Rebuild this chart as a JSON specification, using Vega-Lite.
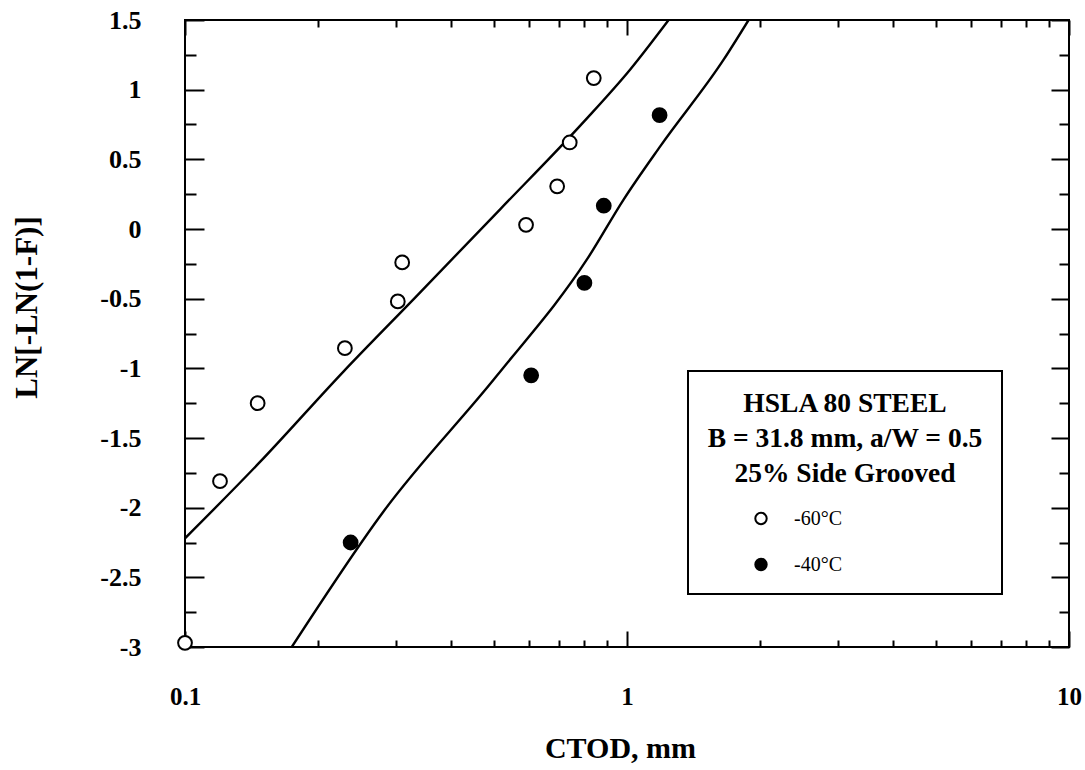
{
  "$schema": "https://vega.github.io/schema/vega-lite/v6.json",
  "width": 884,
  "height": 627,
  "autosize": {"type": "none"},
  "padding": {"left": 185, "top": 20, "right": 16, "bottom": 123},
  "background": "white",
  "config": {
    "view": {"stroke": "black", "strokeWidth": 2},
    "font": "Liberation Serif",
    "axis": {
      "domain": false,
      "grid": false,
      "tickColor": "black",
      "tickWidth": 2,
      "tickOpacity": 1,
      "labelColor": "black",
      "labelFont": "Liberation Serif",
      "labelFontWeight": "bold",
      "titleColor": "black",
      "titleFont": "Liberation Serif",
      "titleFontWeight": "bold"
    }
  },
  "datasets": {
    "fits": [
      {"fit": "upper", "ctod": 0.1, "lnln": -2.22},
      {"fit": "upper", "ctod": 0.148, "lnln": -1.67},
      {"fit": "upper", "ctod": 0.228, "lnln": -1.025},
      {"fit": "upper", "ctod": 0.335, "lnln": -0.478},
      {"fit": "upper", "ctod": 0.517, "lnln": 0.143},
      {"fit": "upper", "ctod": 0.797, "lnln": 0.767},
      {"fit": "upper", "ctod": 1.018, "lnln": 1.147},
      {"fit": "upper", "ctod": 1.242, "lnln": 1.5},
      {"fit": "lower", "ctod": 0.1744, "lnln": -3.0},
      {"fit": "lower", "ctod": 0.281, "lnln": -2.029},
      {"fit": "lower", "ctod": 0.508, "lnln": -1.052},
      {"fit": "lower", "ctod": 0.813, "lnln": -0.215},
      {"fit": "lower", "ctod": 0.984, "lnln": 0.215},
      {"fit": "lower", "ctod": 1.191, "lnln": 0.597},
      {"fit": "lower", "ctod": 1.657, "lnln": 1.219},
      {"fit": "lower", "ctod": 1.884, "lnln": 1.5}
    ],
    "tests": [
      {"temp": "-60°C", "ctod": 0.1, "lnln": -2.97},
      {"temp": "-60°C", "ctod": 0.12, "lnln": -1.81},
      {"temp": "-60°C", "ctod": 0.146, "lnln": -1.25},
      {"temp": "-60°C", "ctod": 0.23, "lnln": -0.855},
      {"temp": "-60°C", "ctod": 0.303, "lnln": -0.52},
      {"temp": "-60°C", "ctod": 0.31, "lnln": -0.24},
      {"temp": "-60°C", "ctod": 0.591, "lnln": 0.03},
      {"temp": "-60°C", "ctod": 0.695, "lnln": 0.306},
      {"temp": "-60°C", "ctod": 0.742, "lnln": 0.621},
      {"temp": "-60°C", "ctod": 0.841, "lnln": 1.083},
      {"temp": "-40°C", "ctod": 0.237, "lnln": -2.25},
      {"temp": "-40°C", "ctod": 0.607, "lnln": -1.05},
      {"temp": "-40°C", "ctod": 0.801, "lnln": -0.387},
      {"temp": "-40°C", "ctod": 0.886, "lnln": 0.167},
      {"temp": "-40°C", "ctod": 1.185, "lnln": 0.817}
    ]
  },
  "resolve": {"axis": {"x": "independent", "y": "independent"}},
  "layer": [
    {
      "data": {"name": "fits"},
      "mark": {"type": "line", "color": "black", "strokeWidth": 2.4, "opacity": 1, "interpolate": "monotone", "clip": true},
      "encoding": {
        "detail": {"field": "fit"},
        "x": {
          "field": "ctod", "type": "quantitative",
          "scale": {"type": "log", "domain": [0.1, 10], "nice": false},
          "axis": {
            "orient": "bottom",
            "title": "CTOD, mm",
            "titleFontSize": 30,
            "titleX": 435,
            "titleY": 101,
            "titleAlign": "center",
            "titleBaseline": "middle",
            "values": [0.1, 0.2, 0.3, 0.4, 0.5, 0.6, 0.7, 0.8, 0.9, 1, 2, 3, 4, 5, 6, 7, 8, 9, 10],
            "tickSize": {"condition": {"test": "datum.value == 0.1 || datum.value == 1 || datum.value == 10", "value": -16}, "value": -7},
            "labelExpr": "datum.value == 0.1 || datum.value == 1 || datum.value == 10 ? toString(datum.value) : ''",
            "labelFontSize": 25,
            "labelPadding": 53,
            "labelFlush": false,
            "labelOverlap": false
          }
        },
        "y": {
          "field": "lnln", "type": "quantitative",
          "scale": {"domain": [-3, 1.5], "nice": false, "zero": false},
          "axis": {
            "orient": "left",
            "title": "LN[-LN(1-F)]",
            "titleFontSize": 31,
            "titleX": -158,
            "titleY": 287,
            "titleAlign": "center",
            "titleBaseline": "middle",
            "titleAngle": 270,
            "values": [-3, -2.75, -2.5, -2.25, -2, -1.75, -1.5, -1.25, -1, -0.75, -0.5, -0.25, 0, 0.25, 0.5, 0.75, 1, 1.25, 1.5],
            "tickSize": {"condition": {"test": "(datum.value * 2) % 1 == 0", "value": -19}, "value": -11},
            "labelExpr": "(datum.value * 2) % 1 == 0 ? toString(datum.value) : ''",
            "labelFontSize": 26,
            "labelPadding": 63,
            "labelFlush": false,
            "labelOverlap": false
          }
        }
      }
    },
    {
      "data": {"name": "tests"},
      "mark": {"type": "point", "shape": "circle", "filled": true, "opacity": 1, "size": 190, "stroke": "black", "strokeWidth": 2},
      "encoding": {
        "x": {
          "field": "ctod", "type": "quantitative",
          "axis": {
            "orient": "top",
            "title": null,
            "labels": false,
            "values": [0.1, 0.2, 0.3, 0.4, 0.5, 0.6, 0.7, 0.8, 0.9, 1, 2, 3, 4, 5, 6, 7, 8, 9, 10],
            "tickSize": {"condition": {"test": "datum.value == 0.1 || datum.value == 1 || datum.value == 10", "value": -15}, "value": -7}
          }
        },
        "y": {
          "field": "lnln", "type": "quantitative",
          "axis": {
            "orient": "right",
            "title": null,
            "labels": false,
            "values": [-3, -2.75, -2.5, -2.25, -2, -1.75, -1.5, -1.25, -1, -0.75, -0.5, -0.25, 0, 0.25, 0.5, 0.75, 1, 1.25, 1.5],
            "tickSize": {"condition": {"test": "(datum.value * 2) % 1 == 0", "value": -18}, "value": -10}
          }
        },
        "fill": {
          "field": "temp", "type": "nominal",
          "scale": {"domain": ["-60°C", "-40°C"], "range": ["white", "black"]},
          "legend": {
            "orient": "none",
            "legendX": 503,
            "legendY": 351,
            "title": ["HSLA 80 STEEL", "B = 31.8 mm, a/W = 0.5", "25% Side Grooved"],
            "titleFont": "Liberation Serif",
            "titleFontSize": 27.5,
            "titleFontWeight": "bold",
            "titleColor": "black",
            "titleAnchor": "middle",
            "titleAlign": "center",
            "titleLineHeight": 35,
            "titlePadding": 21,
            "titleLimit": 400,
            "labelFont": "Liberation Serif",
            "labelFontSize": 20,
            "labelColor": "black",
            "labelOffset": 23,
            "symbolOffset": -97,
            "symbolSize": 130,
            "symbolType": "circle",
            "symbolOpacity": 1,
            "symbolStrokeColor": "black",
            "symbolStrokeWidth": 2,
            "rowPadding": 26,
            "padding": 19,
            "strokeColor": "black",
            "fillColor": "white",
            "encode": {"legend": {"update": {"strokeWidth": {"value": 2}}}}
          }
        }
      }
    }
  ]
}
